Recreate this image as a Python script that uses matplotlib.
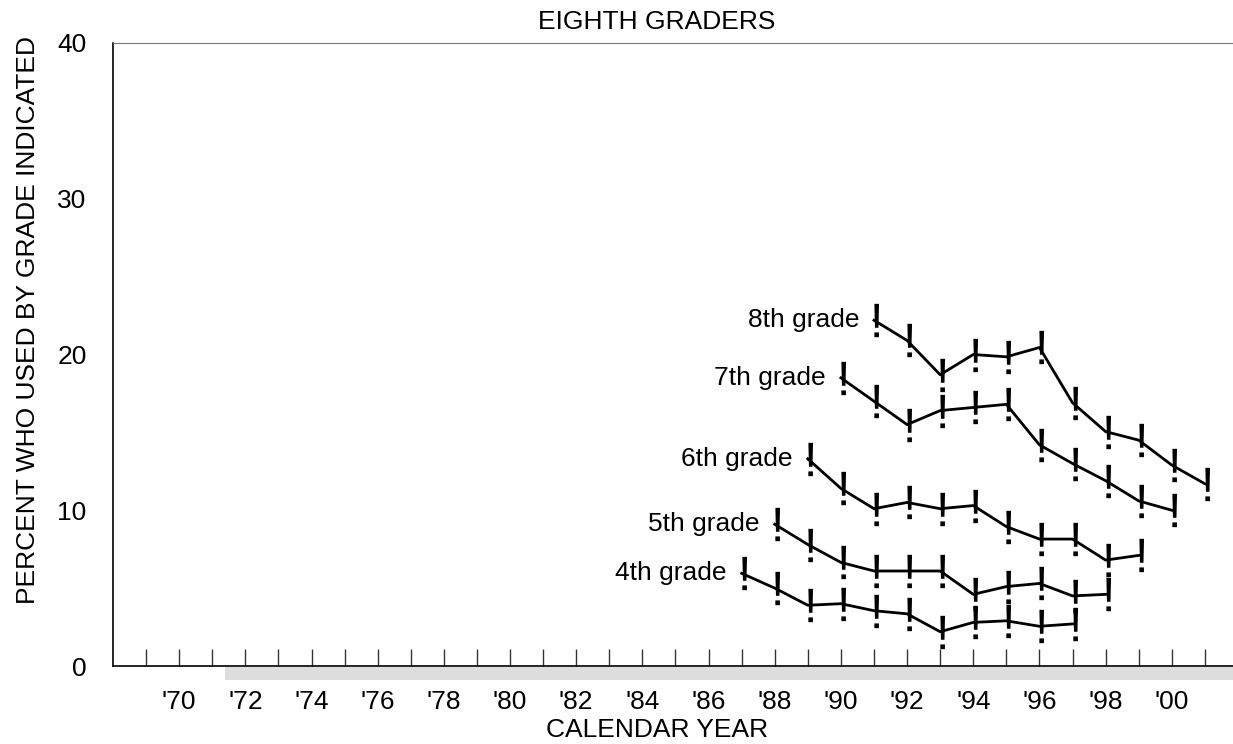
import matplotlib
matplotlib.use("Agg")
import numpy as np
import matplotlib.pyplot as plt
import matplotlib.transforms as mtransforms
from matplotlib.patches import Rectangle
from matplotlib.path import Path
from matplotlib.textpath import TextPath
from matplotlib.font_manager import FontProperties

plt.rcParams["font.family"] = ["Liberation Sans", "DejaVu Sans"]

# data (percent)
grades = ["4th grade", "5th grade", "6th grade", "7th grade", "8th grade"]
start_years = [1987, 1988, 1989, 1990, 1991]
g4 = [5.95, 5.0, 3.9, 4.0, 3.55, 3.35, 2.2, 2.8, 2.9, 2.55, 2.7]
g5 = [9.1, 7.8, 6.65, 6.1, 6.1, 6.1, 4.6, 5.1, 5.3, 4.5, 4.6]
g6 = [13.3, 11.4, 10.1, 10.5, 10.1, 10.3, 8.95, 8.15, 8.15, 6.8, 7.1]
g7 = [18.5, 17.0, 15.5, 16.4, 16.6, 16.8, 14.2, 13.0, 11.9, 10.6, 10.0]
g8 = [22.2, 20.9, 18.7, 20.0, 19.85, 20.45, 16.9, 15.05, 14.5, 12.9, 11.7]
series = [g4, g5, g6, g7, g8]

year_labels = list(range(1970, 2001, 2))
odd_years = list(range(1969, 2002, 2))
y_ticks = [0, 10, 20, 30, 40]

# "!" marker made from the font glyph, centred on the point
tp = TextPath((0, 0), "!", size=10, prop=FontProperties(family="Liberation Sans"))
v = tp.vertices.copy()
v[:, 0] -= (v[:, 0].min() + v[:, 0].max()) / 2
v[:, 1] -= (v[:, 1].min() + v[:, 1].max()) / 2
bang = Path(v, tp.codes)

fig = plt.figure(figsize=(12.33, 7.44), dpi=100)
ax = fig.add_axes([113 / 1233, 78 / 744, 1120 / 1233, 623 / 744])

for name, start, vals in zip(grades, start_years, series):
    yrs = np.arange(start, start + len(vals))
    ax.plot(yrs, vals, color="black", lw=2, zorder=3)
    ax.plot(yrs, vals, ls="none", marker=bang, ms=24, mfc="black", mec="black",
            mew=0, zorder=4)
    ax.annotate(name, (yrs[0], vals[0]), xytext=(-15, 0), textcoords="offset pixels",
                ha="right", va="center", fontsize=19)

ax.set_xlim(1968, 2001.85)
ax.set_ylim(0, 40)

ax.set_xticks(year_labels)
ax.set_xticklabels(["'%02d" % (y % 100) for y in year_labels])
ax.set_xticks(odd_years, minor=True)
ax.tick_params(axis="x", which="both", direction="in", length=12, width=1, color="#333333")
ax.tick_params(axis="x", which="major", pad=17, labelsize=19)
ax.set_yticks(y_ticks)
ax.tick_params(axis="y", length=0, pad=19, labelsize=19)

ax.spines["right"].set_visible(False)
ax.spines["top"].set_color("#777777")
ax.spines["top"].set_linewidth(0.8)
ax.spines["left"].set_linewidth(1.2)
ax.spines["bottom"].set_linewidth(1.2)

# grey band under the axis
trans = mtransforms.blended_transform_factory(ax.transData, ax.transAxes)
ax.add_patch(Rectangle((1971.4, -0.0225), 2001.85 - 1971.4, 0.0205, transform=trans,
                       fc="#dddddd", ec="none", clip_on=False))

fig.text(657 / 1233, 1 - 22 / 744, "EIGHTH GRADERS", ha="center", va="center", fontsize=19)
fig.text(657 / 1233, 1 - 730 / 744, "CALENDAR YEAR", ha="center", va="center", fontsize=19)
fig.text(28 / 1233, 1 - 320 / 744, "PERCENT WHO USED BY GRADE INDICATED", rotation=90,
         ha="center", va="center", fontsize=19)

fig.savefig("out.png", dpi=100)
